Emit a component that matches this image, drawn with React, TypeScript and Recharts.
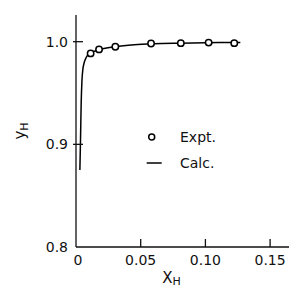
import React from "react";
import { ComposedChart, Line, Scatter, XAxis, YAxis, Legend } from "recharts";

const exptX = [0.0113, 0.0178, 0.0304, 0.058, 0.081, 0.1025, 0.1223];
const exptY = [0.9886, 0.9925, 0.995, 0.9983, 0.9986, 0.9991, 0.9986];

const calcX = [0.003, 0.0035, 0.004, 0.0046, 0.0053, 0.0062, 0.0073, 0.0085, 0.01, 0.0116, 0.015, 0.02, 0.03, 0.045, 0.06, 0.08, 0.1, 0.127];
const calcY = [0.875, 0.905, 0.94, 0.962, 0.973, 0.979, 0.983, 0.986, 0.988, 0.9895, 0.991, 0.9928, 0.995, 0.997, 0.998, 0.9986, 0.999, 0.9992];

const xTicks = [0, 0.05, 0.1, 0.15];
const xTickLabels = ["0", "0.05", "0.10", "0.15"];
const yTicks = [0.8, 0.9, 1.0];
const yTickLabels = ["0.8", "0.9", "1.0"];
const legendLabels = ["Expt.", "Calc."];

const exptData = exptX.map((x, i) => ({ x, y: exptY[i] }));
const calcData = calcX.map((x, i) => ({ x, y: calcY[i] }));

const FONT = "'DejaVu Sans', sans-serif";
const INK = "#111";

const XTick = (props: any) => {
  const { x, y, payload } = props;
  const i = xTicks.indexOf(payload.value);
  return (
    <g>
      {payload.value > 0 && <line x1={x} y1={y} x2={x} y2={y - 8} stroke={INK} strokeWidth={1.3} />}
      <text x={payload.value === 0 ? x + 2 : x} y={y + 13} textAnchor="middle" dominantBaseline="central" fontFamily={FONT} fontSize={14} fill={INK}>
        {i >= 0 ? xTickLabels[i] : payload.value}
      </text>
    </g>
  );
};

const YTick = (props: any) => {
  const { x, y, payload } = props;
  const i = yTicks.findIndex((v) => Math.abs(v - payload.value) < 1e-9);
  const isBottom = i === 0;
  return (
    <g>
      {!isBottom && <line x1={x - 3} y1={y} x2={x + 7} y2={y} stroke={INK} strokeWidth={1.3} />}
      <text x={x - 8} y={y} textAnchor="end" dominantBaseline="central" fontFamily={FONT} fontSize={14} fill={INK}>
        {i >= 0 ? yTickLabels[i] : payload.value}
      </text>
    </g>
  );
};

const YLabel = (props: any) => {
  const vb = props.viewBox || {};
  const cx = vb.x + 4;
  const cy = vb.y + vb.height / 2;
  return (
    <text transform={`translate(${cx},${cy}) rotate(-90)`} textAnchor="middle" dominantBaseline="central" fontFamily={FONT} fontSize={15} fill={INK}>
      y<tspan fontSize={11} dy={4}>H</tspan>
    </text>
  );
};

const XLabel = (props: any) => {
  const vb = props.viewBox || {};
  const cx = vb.x + vb.width / 2 - 11;
  const cy = vb.y + 31;
  return (
    <text x={cx} y={cy} textAnchor="middle" dominantBaseline="central" fontFamily={FONT} fontSize={15} fill={INK}>
      X<tspan fontSize={11} dy={3}>H</tspan>
    </text>
  );
};

const Dot = (props: any) => (
  <circle cx={props.cx} cy={props.cy} r={3.2} fill="#fff" stroke="#000" strokeWidth={1.5} />
);

const renderLegend = () => (
  <div style={{ fontFamily: FONT, fontSize: 14, color: INK }}>
    <div style={{ display: "flex", alignItems: "center", height: 26 }}>
      <svg width={36} height={14}>
        <circle cx={7.7} cy={7} r={3} fill="#fff" stroke="#000" strokeWidth={1.5} />
      </svg>
      <span>{legendLabels[0]}</span>
    </div>
    <div style={{ display: "flex", alignItems: "center", height: 26 }}>
      <svg width={36} height={14}>
        <line x1={2.7} y1={7} x2={17.7} y2={7} stroke="#000" strokeWidth={1.5} />
      </svg>
      <span>{legendLabels[1]}</span>
    </div>
  </div>
);

export default function App() {
  return (
    <div style={{ position: "absolute", left: 0, top: 0, width: 289, height: 289, background: "#fff" }}>
      <ComposedChart width={289} height={289} margin={{ top: 15, right: 0, bottom: 12, left: 16 }}>
        <XAxis
          type="number"
          dataKey="x"
          domain={[0, 0.1646]}
          ticks={xTicks}
          tickSize={0}
          tickMargin={0}
          tick={<XTick />}
          axisLine={{ stroke: INK, strokeWidth: 1.3 }}
          tickLine={false}
          height={30}
          allowDataOverflow
          label={<XLabel />}
        />
        <YAxis
          type="number"
          dataKey="y"
          domain={[0.8, 1.026]}
          ticks={yTicks}
          tickSize={0}
          tickMargin={0}
          tick={<YTick />}
          axisLine={{ stroke: INK, strokeWidth: 1.3 }}
          tickLine={false}
          width={60}
          allowDataOverflow
          label={<YLabel />}
        />
        <Legend
          content={renderLegend}
          layout="vertical"
          align="center"
          verticalAlign="middle"
          wrapperStyle={{ position: "absolute", left: 144, top: 124, width: "auto", height: "auto" }}
        />
        <Line data={calcData} dataKey="y" name="Calc." type="monotone" stroke="#000" strokeWidth={1.5} dot={false} isAnimationActive={false} legendType="line" />
        <Scatter data={exptData} dataKey="y" name="Expt." shape={<Dot />} isAnimationActive={false} />
      </ComposedChart>
    </div>
  );
}
